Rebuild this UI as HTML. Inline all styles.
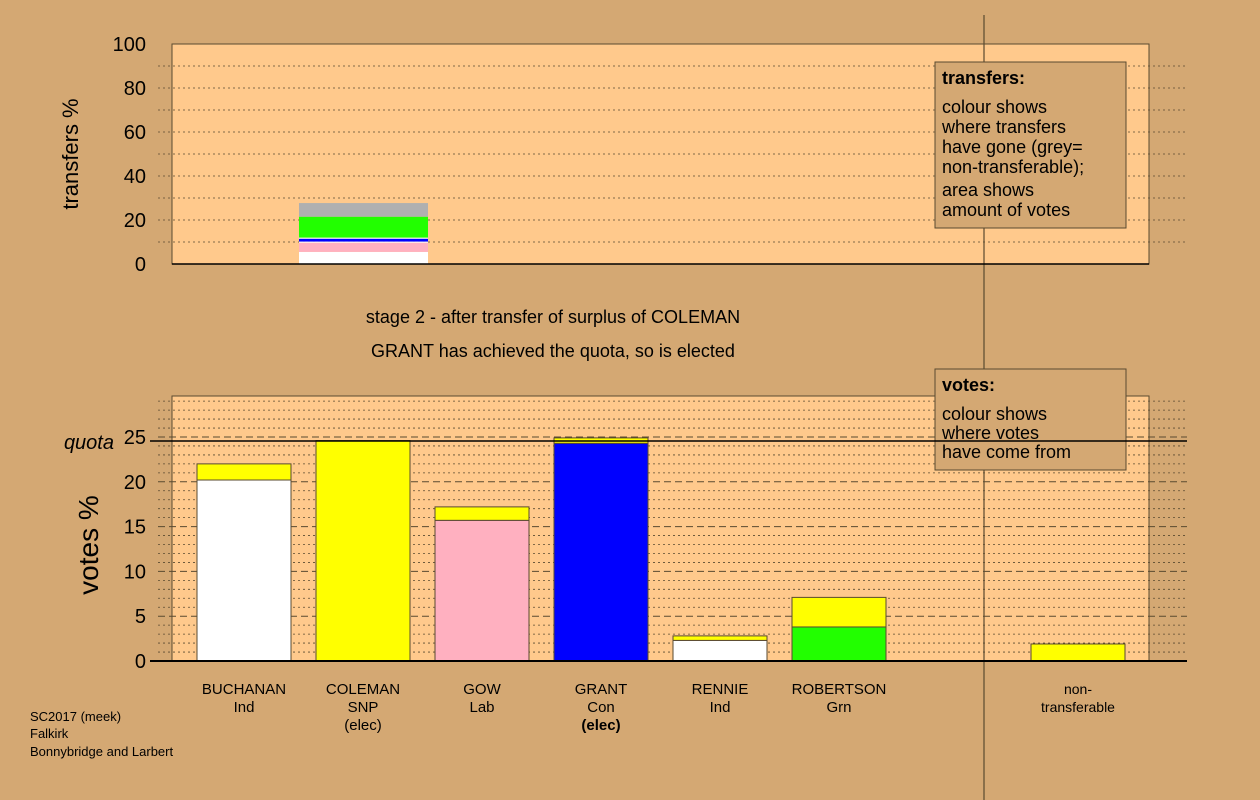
<!DOCTYPE html>
<html><head><meta charset="utf-8"><style>
html,body{margin:0;padding:0;background:#d4a873;}
svg{display:block;font-family:"Liberation Sans",sans-serif;}
</style></head><body>
<svg id="c" width="1260" height="800" viewBox="0 0 1260 800" xmlns="http://www.w3.org/2000/svg">
<rect x="0" y="0" width="1260" height="800" fill="#d4a873"/>
<rect x="172" y="44" width="977" height="220" fill="#ffc98c" stroke="#5a4a30" stroke-width="1"/>
<rect x="172" y="396" width="977" height="265" fill="#ffc98c" stroke="#5a4a30" stroke-width="1"/>
<g id="grid"></g>
<g id="marks"></g>
<line x1="984" y1="15" x2="984" y2="800" stroke="#5a4a30" stroke-width="1.2"/>
<text x="78" y="154" font-size="22" text-anchor="middle" transform="rotate(-90 78 154)" fill="#000">transfers %</text>
<text x="98" y="545" font-size="28" text-anchor="middle" transform="rotate(-90 98 545)" fill="#000">votes %</text>
<text x="114" y="449" font-size="20" font-style="italic" text-anchor="end">quota</text>
<text x="553" y="323" font-size="18" text-anchor="middle">stage 2 - after transfer of surplus of COLEMAN</text>
<text x="553" y="357" font-size="18" text-anchor="middle">GRANT has achieved the quota, so is elected</text>
<g>
<rect x="935" y="62" width="191" height="166" fill="#d4a873" stroke="#5a4a30"/>
<text x="942" y="84" font-size="18" font-weight="bold">transfers:</text>
<text font-size="18"><tspan x="942" y="113">colour shows</tspan><tspan x="942" y="133">where transfers</tspan><tspan x="942" y="153">have gone (grey=</tspan><tspan x="942" y="173">non-transferable);</tspan><tspan x="942" y="196">area shows</tspan><tspan x="942" y="216">amount of votes</tspan></text>
</g>
<g>
<rect x="935" y="369" width="191" height="101" fill="#d4a873" stroke="#5a4a30"/>
<text x="942" y="391" font-size="18" font-weight="bold">votes:</text>
<text font-size="18"><tspan x="942" y="420">colour shows</tspan><tspan x="942" y="439">where votes</tspan><tspan x="942" y="458">have come from</tspan></text>
</g>
<text font-size="13"><tspan x="30" y="721">SC2017 (meek)</tspan><tspan x="30" y="738">Falkirk</tspan><tspan x="30" y="756">Bonnybridge and Larbert</tspan></text>
</svg>
<script>
const candidates=["BUCHANAN","COLEMAN","GOW","GRANT","RENNIE","ROBERTSON","non-"];
const parties=["Ind","SNP","Lab","Con","Ind","Grn","transferable"];
const notes=["","(elec)","","(elec)","","",""];
const baseColors=["#ffffff","#ffff00","#ffb0c0","#0000ff","#ffffff","#22ff00","#ffff00"];
const baseVotes=[20.2,24.6,15.7,24.3,2.3,3.8,1.9];
const transferVotes=[1.8,0,1.5,0.6,0.5,3.3,0];
const quota=24.55;
const voteTicks=[0,5,10,15,20,25];
const transferTicks=[0,20,40,60,80,100];
const transferColors=["#ffffff","#ffb0c0","#ffffff","#0000ff","#ffffff","#22ff00","#b0b0b0"];
const transferShares=[5.5,4.2,0.5,1.3,0.5,9.5,6.2];

const NS="http://www.w3.org/2000/svg";
const grid=document.getElementById('grid'),marks=document.getElementById('marks'),svg=document.getElementById('c');
function yV(v){return 661-v*8.96;}
function yT(v){return 264-v*2.2;}
function xB(i){return i<6?197+i*119:1031;}
const BW=94;
function mk(tag,attrs,parent){const e=document.createElementNS(NS,tag);for(const k in attrs)e.setAttribute(k,attrs[k]);(parent||svg).appendChild(e);return e;}
// votes grid
for(let v=1;v<=29;v++){
  const l=mk('line',{x1:158,x2:1187,y1:yV(v),y2:yV(v),stroke:'#5a4a30','stroke-width':v%5?0.8:1,'stroke-dasharray':v%5?'2,3':'7,4'},grid);
  
  
}
for(let v=10;v<=90;v+=10){
  const l=mk('line',{x1:158,x2:1187,y1:yT(v),y2:yT(v),stroke:'#5a4a30','stroke-width':0.8,'stroke-dasharray':'2,3'},grid);
  
  
}
voteTicks.forEach(t=>{const e=mk('text',{x:146,y:yV(t)+7,'font-size':20,'text-anchor':'end'});e.textContent=t;
  
  });
transferTicks.forEach(t=>{const e=mk('text',{x:146,y:yT(t)+7,'font-size':20,'text-anchor':'end'});e.textContent=t;
  
  });
// transfers bar
let acc=0;
transferShares.forEach((s,i)=>{const r=mk('rect',{x:299,width:129,y:yT(acc+s),height:s*2.2,fill:transferColors[i]},marks);acc+=s;
  
  });
// vote bars
candidates.forEach((c,i)=>{
  const x=xB(i);
  if(baseVotes[i]>0){const r=mk('rect',{x:x,width:BW,y:yV(baseVotes[i]),height:baseVotes[i]*8.96,fill:baseColors[i],stroke:'#5a4a30','stroke-width':1},marks);
    
    }
  if(transferVotes[i]>0){const r=mk('rect',{x:x,width:BW,y:yV(baseVotes[i]+transferVotes[i]),height:transferVotes[i]*8.96,fill:'#ffff00',stroke:'#5a4a30','stroke-width':1},marks);
    
    }
  const cx=x+BW/2;
  const t=mk('text',{x:cx,y:i<6?694:694,'font-size':i<6?15:14,'text-anchor':'middle'});t.textContent=c;
  
  
  const p=mk('text',{x:cx,y:712,'font-size':i<6?15:14,'text-anchor':'middle'});p.textContent=parties[i];
  
  
  if(notes[i]){const n=mk('text',{x:cx,y:730,'font-size':15,'text-anchor':'middle','font-weight':i==3?'bold':'normal'});n.textContent=notes[i];
    
    }
});
const q=mk('line',{x1:150,x2:1187,y1:yV(quota),y2:yV(quota),stroke:'#000','stroke-width':1.5});


const a=mk('line',{x1:150,x2:1187,y1:661,y2:661,stroke:'#000','stroke-width':2});


const a2=mk('line',{x1:172,x2:1149,y1:264,y2:264,stroke:'#000','stroke-width':1.5});


</script>
</body></html>
